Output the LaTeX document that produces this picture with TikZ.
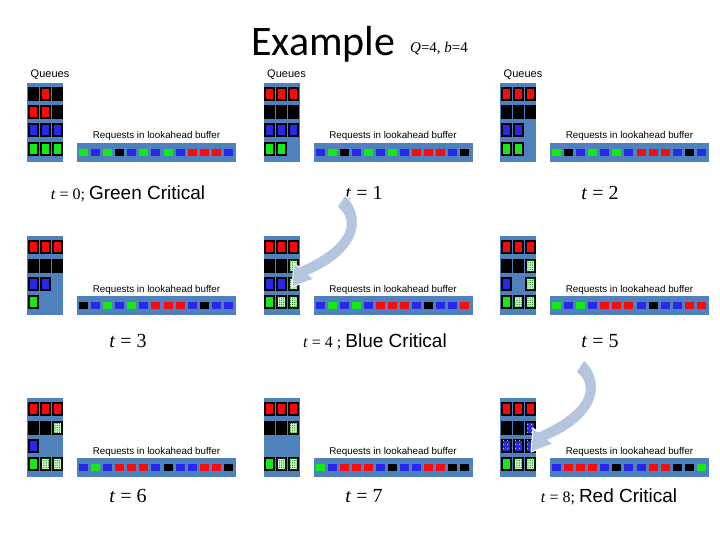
\documentclass[tikz,border=0pt]{standalone}
\usepackage{fontspec}
\setmainfont{Liberation Serif}
\setsansfont{Liberation Sans}
\newfontfamily\carlito{Carlito}
\usetikzlibrary{patterns.meta}
\definecolor{panel}{RGB}{79,129,189}
\definecolor{qred}{RGB}{250,10,10}
\definecolor{qblue}{RGB}{40,40,235}
\definecolor{qgreen}{RGB}{20,235,20}
\definecolor{arrowc}{RGB}{180,197,222}
% one time step: queues on the left, lookahead buffer on the right
\newcommand{\QPanel}[7][]{
  \begin{scope}[#1]
    \fill[panel](0,0)rectangle(36,79);
    \foreach \c [count=\i from 0] in {#3}{\path[q\c](1.5+12*\i,5)rectangle++(9,12);}
    \foreach \c [count=\i from 0] in {#4}{\path[q\c](1.5+12*\i,23.5)rectangle++(9,12);}
    \foreach \c [count=\i from 0] in {#5}{\path[q\c](1.5+12*\i,41.5)rectangle++(9,12);}
    \foreach \c [count=\i from 0] in {#6}{\path[q\c](1.5+12*\i,60)rectangle++(9,12);}
    \fill[panel](50,60)rectangle++(159,19);
    \foreach \c [count=\i from 0] in {#7}{\fill[b\c](52+12.08*\i,66)rectangle++(9,7);}
    \node[reqtxt,anchor=base](#2-req) at (129.5,56) {Requests in lookahead buffer};
  \end{scope}
}
\newcommand{\BendArrow}[1][]{
  \begin{scope}[#1]
    \fill[arrowc,draw=white,line width=1pt](-8,12)--(0,0)
      ..controls(22,20)and(18,57)..(-36,80)--(-31,84)--(-53,92)--(-51,68)--(-46,72)
      ..controls(4,50)and(10,26)..(-8,12)--cycle;
  \end{scope}
}

\begin{document}
\begin{tikzpicture}[x=1pt,y=-1pt,inner sep=0pt,
  cellbox/.style={draw=black,line width=2pt},
  qR/.style={cellbox,fill=qred},
  qK/.style={cellbox,fill=black},
  qB/.style={cellbox,fill=qblue},
  qG/.style={cellbox,fill=qgreen},
  qH/.style={cellbox,fill=green!22,postaction={pattern={Dots[distance=2.2pt,radius=.6pt]},pattern color=green!45!black}},
  qD/.style={cellbox,fill=qblue,postaction={pattern={Dots[distance=4pt,radius=.6pt]},pattern color=white}},
  qE/.style={},
  bR/.style={fill=qred},bK/.style={fill=black},bB/.style={fill=qblue},bG/.style={fill=qgreen},
  reqtxt/.style={font=\fontsize{9.8}{11}\selectfont\sffamily},
  queuetxt/.style={font=\fontsize{11}{13}\selectfont\sffamily},
  tlab/.style={font=\fontsize{20}{24}\selectfont},
  critlab/.style={font=\fontsize{16}{19}\selectfont}]
  \useasboundingbox(0,0)rectangle(720,540);
  % title
  \node[anchor=base west,font=\fontsize{42}{46}\selectfont\carlito](title) at (251,56) {Example};
  \node[anchor=base west,font=\fontsize{15}{18}\selectfont](param) at (410,53) {\textit{Q}=4, \textit{b}=4};
  % queue labels, top row only
  \node[queuetxt,anchor=base](q0) at (50,78) {Queues};
  \node[queuetxt,anchor=base](q1) at (286.5,78) {Queues};
  \node[queuetxt,anchor=base](q2) at (523,78) {Queues};
  % time steps
  \QPanel[shift={(27,83)}]{p0}{K,R,K}{R,R,K}{B,B,B}{G,G,G}{G,B,G,K,B,G,B,G,B,R,R,R,B}
  \QPanel[shift={(263.5,83)}]{p1}{R,R,R}{K,K,K}{B,B,B}{G,G}{B,G,K,B,G,B,G,B,R,R,R,B,K}
  \QPanel[shift={(500,83)}]{p2}{R,R,R}{K,K,K}{B,B}{G,G}{G,K,B,G,B,G,B,R,R,R,B,K,B}
  \QPanel[shift={(27,236)}]{p3}{R,R,R}{K,K,K}{B,B}{G}{K,B,G,B,G,B,R,R,R,B,K,B,B}
  \QPanel[shift={(263.5,236)}]{p4}{R,R,R}{K,K,H}{B,B,H}{G,H,H}{B,G,B,G,B,R,R,R,B,K,B,B,R}
  \QPanel[shift={(500,236)}]{p5}{R,R,R}{K,K,H}{B,E,H}{G,H,H}{G,B,G,B,R,R,R,B,K,B,B,R,R}
  \QPanel[shift={(27,398)}]{p6}{R,R,R}{K,K,H}{B}{G,H,H}{B,G,B,R,R,R,B,K,B,B,R,R,K}
  \QPanel[shift={(263.5,398)}]{p7}{R,R,R}{K,K,H}{E}{G,H,H}{G,B,R,R,R,B,K,B,B,R,R,K,K}
  \QPanel[shift={(500,398)}]{p8}{R,R,R}{K,K,D}{D,D,D}{G,H,H}{B,R,R,R,B,K,B,B,R,R,K,K,G}
  % step labels
  \node[critlab,anchor=base](t0) at (128,200) {\textit{t} = 0; {\sffamily\fontsize{19}{22}\selectfont Green Critical}};
  \node[tlab,anchor=base](t1) at (364,200) {\textit{t} = 1};
  \node[tlab,anchor=base](t2) at (600,200) {\textit{t} = 2};
  \node[tlab,anchor=base](t3) at (128,347) {\textit{t} = 3};
  \node[critlab,anchor=base](t4) at (375,347) {\textit{t} = 4 ; {\sffamily\fontsize{19}{22}\selectfont Blue Critical}};
  \node[tlab,anchor=base](t5) at (600,347) {\textit{t} = 5};
  \node[tlab,anchor=base](t6) at (128,502) {\textit{t} = 6};
  \node[tlab,anchor=base](t7) at (364,502) {\textit{t} = 7};
  \node[critlab,anchor=base](t8) at (609,502) {\textit{t} = 8; {\sffamily\fontsize{19}{22}\selectfont Red Critical}};
  % moves into the critical queue
  \BendArrow[shift={(345,195)}]
  \BendArrow[shift={(584,360)}]
\end{tikzpicture}
\end{document}
